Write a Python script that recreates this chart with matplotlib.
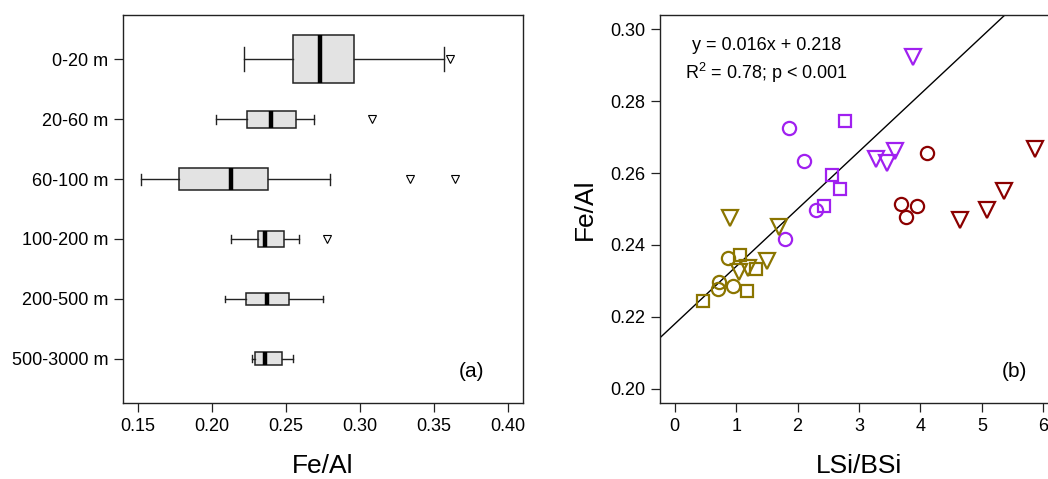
"""Fe/Al by water-depth class (a) and Fe/Al against LSi/BSi (b)."""

import matplotlib
matplotlib.use("Agg")
import matplotlib.pyplot as plt

plt.rcParams["font.family"] = ["Liberation Sans", "DejaVu Sans"]
plt.rcParams["mathtext.fontset"] = "custom"
plt.rcParams["mathtext.rm"] = "Liberation Sans"
plt.rcParams["mathtext.default"] = "regular"

# --- panel (a): box-plot summaries -------------------------------------------
depth_classes = ["0-20 m", "20-60 m", "60-100 m", "100-200 m", "200-500 m", "500-3000 m"]
whisker_lo = [0.222, 0.203, 0.152, 0.213, 0.209, 0.227]
box_q1 = [0.255, 0.224, 0.178, 0.231, 0.223, 0.229]
box_med = [0.273, 0.240, 0.213, 0.236, 0.237, 0.236]
box_q3 = [0.296, 0.257, 0.238, 0.249, 0.252, 0.247]
whisker_hi = [0.357, 0.269, 0.280, 0.259, 0.275, 0.255]
outliers = [[0.361], [0.308], [0.334, 0.364], [0.278], [], []]
box_widths = [0.80, 0.29, 0.37, 0.26, 0.20, 0.22]   # varwidth boxes

# --- panel (b): LSi/BSi vs Fe/Al ---------------------------------------------
purple_circle_x = [1.86, 2.11, 2.30, 1.79]
purple_circle_y = [0.2725, 0.2633, 0.2497, 0.2417]
purple_square_x = [2.78, 2.56, 2.69, 2.43]
purple_square_y = [0.2746, 0.2595, 0.2555, 0.2509]
purple_tri_x = [3.88, 3.28, 3.45, 3.58]
purple_tri_y = [0.2924, 0.2638, 0.2629, 0.2662]

red_circle_x = [4.11, 3.69, 3.94, 3.76]
red_circle_y = [0.2655, 0.2513, 0.2508, 0.2478]
red_tri_x = [5.86, 5.36, 5.09, 4.64]
red_tri_y = [0.2666, 0.2550, 0.2498, 0.2469]

olive_circle_x = [0.87, 0.72, 0.71, 0.95]
olive_circle_y = [0.2363, 0.2298, 0.2276, 0.2286]
olive_square_x = [1.07, 1.33, 1.18, 0.46]
olive_square_y = [0.2372, 0.2332, 0.2273, 0.2244]
olive_tri_x = [0.90, 1.70, 1.50, 1.20, 1.05]
olive_tri_y = [0.2474, 0.2451, 0.2356, 0.2335, 0.2326]

fit_slope = 0.016
fit_intercept = 0.218

PURPLE = "#A020F0"
DARKRED = "#8B0000"
OLIVE = "#8B7500"

W, H = 1048, 479
fig = plt.figure(figsize=(W / 100, H / 100), dpi=100)


def px_axes(left, top, right, bottom):
    return fig.add_axes([left / W, 1 - bottom / H, (right - left) / W, (bottom - top) / H])


def style_ticks(ax):
    ax.tick_params(direction="out", length=6.5, width=0.9, labelsize=13, pad=4, color="#222222")
    for s in ax.spines.values():
        s.set_linewidth(1.0)
        s.set_color("#222222")


# --- (a) ---------------------------------------------------------------------
ax1 = px_axes(123, 15, 523, 403)
n = len(depth_classes)
positions = list(range(n, 0, -1))
stats = []
for i, name in enumerate(depth_classes):
    stats.append(dict(label=name, whislo=whisker_lo[i], q1=box_q1[i], med=box_med[i],
                      q3=box_q3[i], whishi=whisker_hi[i], fliers=outliers[i]))
ax1.bxp(stats, positions=positions, widths=box_widths, vert=False, patch_artist=True,
        capwidths=[w * 0.5 for w in box_widths],
        boxprops=dict(facecolor="#E3E3E3", edgecolor="#222222", linewidth=1.1),
        medianprops=dict(color="black", linewidth=3.2, solid_capstyle="butt"),
        whiskerprops=dict(color="#222222", linewidth=1.0),
        capprops=dict(color="#222222", linewidth=1.0),
        flierprops=dict(marker="v", markersize=5.5, markerfacecolor="none",
                        markeredgecolor="black", markeredgewidth=0.8))
ax1.set_xlim(0.14, 0.41)
ax1.set_ylim(0.26, n + 0.74)
ax1.set_xticks([0.15, 0.20, 0.25, 0.30, 0.35, 0.40])
ax1.set_xticklabels(["0.15", "0.20", "0.25", "0.30", "0.35", "0.40"])
ax1.set_yticks(positions)
ax1.set_yticklabels(depth_classes)
style_ticks(ax1)
ax1.set_xlabel("Fe/Al", fontsize=19, labelpad=14)
ax1.text(0.3755, 0.78, "(a)", fontsize=15, ha="center", va="center")

# --- (b) ---------------------------------------------------------------------
ax2 = px_axes(660, 15, 1058, 403)
ax2.axline((0, fit_intercept), slope=fit_slope, color="black", linewidth=1.0, zorder=1)

groups = [
    (purple_circle_x, purple_circle_y, PURPLE, "o", 9.5),
    (purple_square_x, purple_square_y, PURPLE, "s", 9.0),
    (purple_tri_x, purple_tri_y, PURPLE, "v", 12.0),
    (red_circle_x, red_circle_y, DARKRED, "o", 9.5),
    (red_tri_x, red_tri_y, DARKRED, "v", 12.0),
    (olive_circle_x, olive_circle_y, OLIVE, "o", 9.5),
    (olive_square_x, olive_square_y, OLIVE, "s", 9.0),
    (olive_tri_x, olive_tri_y, OLIVE, "v", 12.0),
]
for gx, gy, color, marker, ms in groups:
    ax2.plot(gx, gy, linestyle="none", marker=marker, markersize=ms,
             markerfacecolor="none", markeredgecolor=color, markeredgewidth=1.6, zorder=3)

ax2.set_xlim(-0.24, 6.24)
ax2.set_ylim(0.196, 0.304)
ax2.set_xticks(range(0, 7))
ax2.set_yticks([0.20, 0.22, 0.24, 0.26, 0.28, 0.30])
ax2.set_yticklabels(["0.20", "0.22", "0.24", "0.26", "0.28", "0.30"])
style_ticks(ax2)
ax2.set_xlabel("LSi/BSi", fontsize=19, labelpad=14)
ax2.set_ylabel("Fe/Al", fontsize=19, labelpad=10)
ax2.text(1.5, 0.2954, f"y = {fit_slope:.3f}x + {fit_intercept:.3f}", fontsize=13,
         ha="center", va="center")
ax2.text(1.5, 0.2879, r"R$^{2}$ = 0.78; p < 0.001", fontsize=13, ha="center", va="center")
ax2.text(5.53, 0.2049, "(b)", fontsize=15, ha="center", va="center")

fig.savefig("out.png", dpi=100)
